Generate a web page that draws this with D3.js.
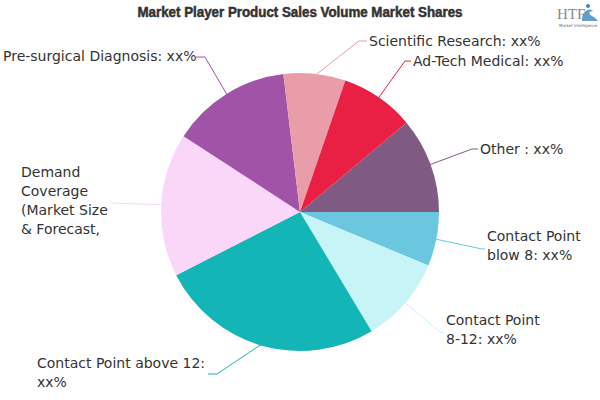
<!DOCTYPE html>
<html><head><meta charset="utf-8">
<script src="https://cdn.jsdelivr.net/npm/d3@7"></script>
<style>body{margin:0;background:#fff}svg{display:block}</style>
</head><body>
<svg id="c" width="600" height="400"></svg>
<script>
const categories = ["Other : xx%", "Contact Point\nblow 8: xx%", "Contact Point\n8-12: xx%", "Contact Point above 12:\nxx%", "Demand\nCoverage\n(Market Size\n& Forecast,", "Pre-surgical Diagnosis: xx%", "Scientific Research: xx%", "Ad-Tech Medical: xx%"];
const values = [11.1, 6.3, 10.1, 26.1, 16.7, 13.9, 7.2, 8.6];
const colors = ["#7f5b83", "#6bc7e0", "#c6f4f7", "#13b5b6", "#fad7f8", "#a153a8", "#e99da9", "#ea1f44"];
const title = "Market Player Product Sales Volume Market Shares";

const svg = d3.select("#c");
const cx = 300, cy = 212, r = 139;
const g = svg.append("g").attr("transform", `translate(${cx},${cy})`);
const pie = d3.pie().sort(null).value(d => d).startAngle(50 * Math.PI / 180).endAngle(410 * Math.PI / 180);
const arcs = pie(values);
const arc = d3.arc().innerRadius(0).outerRadius(r);
g.selectAll("path.s").data(arcs).enter().append("path").attr("class", "s")
  .attr("d", arc).attr("fill", (d, i) => colors[i]).attr("stroke", "none");

const lab = [
  {x: 480, y: 154, ex: 472, ey: 149},
  {x: 487, y: 241, ex: 482, ey: 249},
  {x: 446, y: 325, ex: 440, ey: 332},
  {x: 37, y: 368, ex: 217, ey: 374, end: 208},
  {x: 21, y: 177, ex: 112, ey: 203, end: 110},
  {x: 3, y: 61, ex: 205, ey: 57, end: 196},
  {x: 369, y: 46, ex: 359, ey: 41},
  {x: 413, y: 66, ex: 405, ey: 61}
];
const lineH = 19;
arcs.forEach((a, i) => {
  const mid = (a.startAngle + a.endAngle) / 2;
  const px = cx + Math.sin(mid) * (r - 2), py = cy - Math.cos(mid) * (r - 2);
  const L = lab[i];
  const pts = [[px, py], [L.ex, L.ey]];
  if (L.end !== undefined) pts.push([L.end, L.ey]);
  else pts.push([L.x - 2, L.ey]);
  svg.append("path").attr("d", d3.line()(pts)).attr("fill", "none")
    .attr("stroke", colors[i]).attr("stroke-width", 1);
  const t = svg.append("text").attr("x", L.x).attr("y", L.y)
    .attr("font-family", "'DejaVu Sans', sans-serif").attr("font-size", 14)
    .attr("fill", "#333");
  categories[i].split("\n").forEach((s, k) => {
    t.append("tspan").attr("x", L.x).attr("dy", k === 0 ? 0 : lineH).text(s);
  });
});

svg.append("text").attr("x", 300).attr("y", 17).attr("text-anchor", "middle")
  .attr("font-family", "'Liberation Sans Narrow', 'Liberation Sans', sans-serif")
  .attr("font-weight", "bold").attr("font-size", 14).attr("fill", "#333")
  .attr("stroke", "#333").attr("stroke-width", 0.5)
  .attr("textLength", 325).attr("lengthAdjust", "spacingAndGlyphs").text(title);

// logo
const lg = svg.append("g");
lg.append("text").attr("x", 557).attr("y", 19).attr("font-family", "'Liberation Serif', serif")
  .attr("font-size", 15).attr("fill", "#888").text("HTF");
lg.append("path").attr("d", "M582,19 C583,11 589,7 593,11 C589,11 588,14 592,16 C595,18 597,19 598,21 L582,21 Z")
  .attr("fill", "#3a86c0").attr("opacity", 0.8);
lg.append("circle").attr("cx", 588).attr("cy", 6).attr("r", 2).attr("fill", "#3a86c0");
lg.append("text").attr("x", 559).attr("y", 27).attr("font-family", "'DejaVu Sans', sans-serif")
  .attr("font-size", 4).attr("fill", "#666").text("Market Intelligence");
</script>
</body></html>
